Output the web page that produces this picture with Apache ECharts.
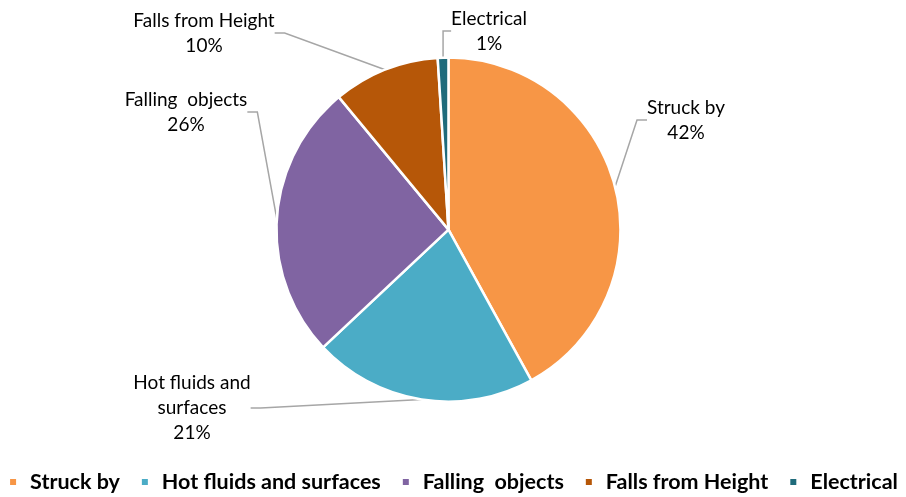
<!DOCTYPE html>
<html>
<head>
    <meta charset="utf-8">
    <title>Injury causes</title>
    <script src="https://cdn.jsdelivr.net/npm/echarts@6.0.0/dist/echarts.min.js"></script>
    <style>
        html, body { margin: 0; padding: 0; background: #fff; }
        #main { width: 906px; height: 497px; }
    </style>
</head>
<body>
    <div id="main"></div>
    <script>
        const categories = ['Struck by', 'Hot fluids and surfaces', 'Falling  objects', 'Falls from Height', 'Electrical'];
        const labelNames = ['Struck by', 'Hot fluids and\nsurfaces', 'Falling  objects', 'Falls from Height', 'Electrical'];
        const values = [42, 21, 26, 10, 1];
        const colors = ['#F79646', '#4BACC6', '#8064A2', '#B65708', '#1F6B7B'];
        // where each data label sits (text centre)
        const labelSpots = [[686, 120], [192, 408], [186, 112], [204, 33], [489, 31]];

        var myChart = echarts.init(document.getElementById('main'));
        const font = 'Lato, "Open Sans", sans-serif';

        const option = {
            animation: false,
            color: colors,
            legend: {
                data: categories,
                bottom: -1,
                left: 'center',
                itemWidth: 8,
                itemHeight: 8,
                itemGap: 20,
                icon: 'rect',
                textStyle: {
                    fontFamily: font,
                    fontSize: 21.5,
                    fontWeight: 'bold',
                    color: '#000',
                    padding: [0, 0, 0, 8]
                }
            },
            series: [{
                type: 'pie',
                center: ['49.5%', '46.2%'],
                radius: 172,
                startAngle: 90,
                clockwise: true,
                data: categories.map((c, i) => ({ name: c, value: values[i] })),
                itemStyle: { borderColor: '#fff', borderWidth: 2.5 },
                label: {
                    show: true,
                    position: 'outside',
                    fontFamily: font,
                    fontSize: 19,
                    lineHeight: 25,
                    color: '#000',
                    align: 'center',
                    formatter: p => labelNames[p.dataIndex] + '\n' + p.value + '%'
                },
                labelLine: {
                    show: true,
                    length: 20,
                    length2: 10,
                    lineStyle: { color: '#A6A6A6', width: 1.5 }
                },
                labelLayout: function (params) {
                    const s = labelSpots[params.dataIndex];
                    return { x: s[0], y: s[1], align: 'center', verticalAlign: 'middle' };
                }
            }]
        };

        myChart.setOption(option);
        window.addEventListener('resize', function () {
            myChart.resize();
        });
    </script>
</body>
</html>
